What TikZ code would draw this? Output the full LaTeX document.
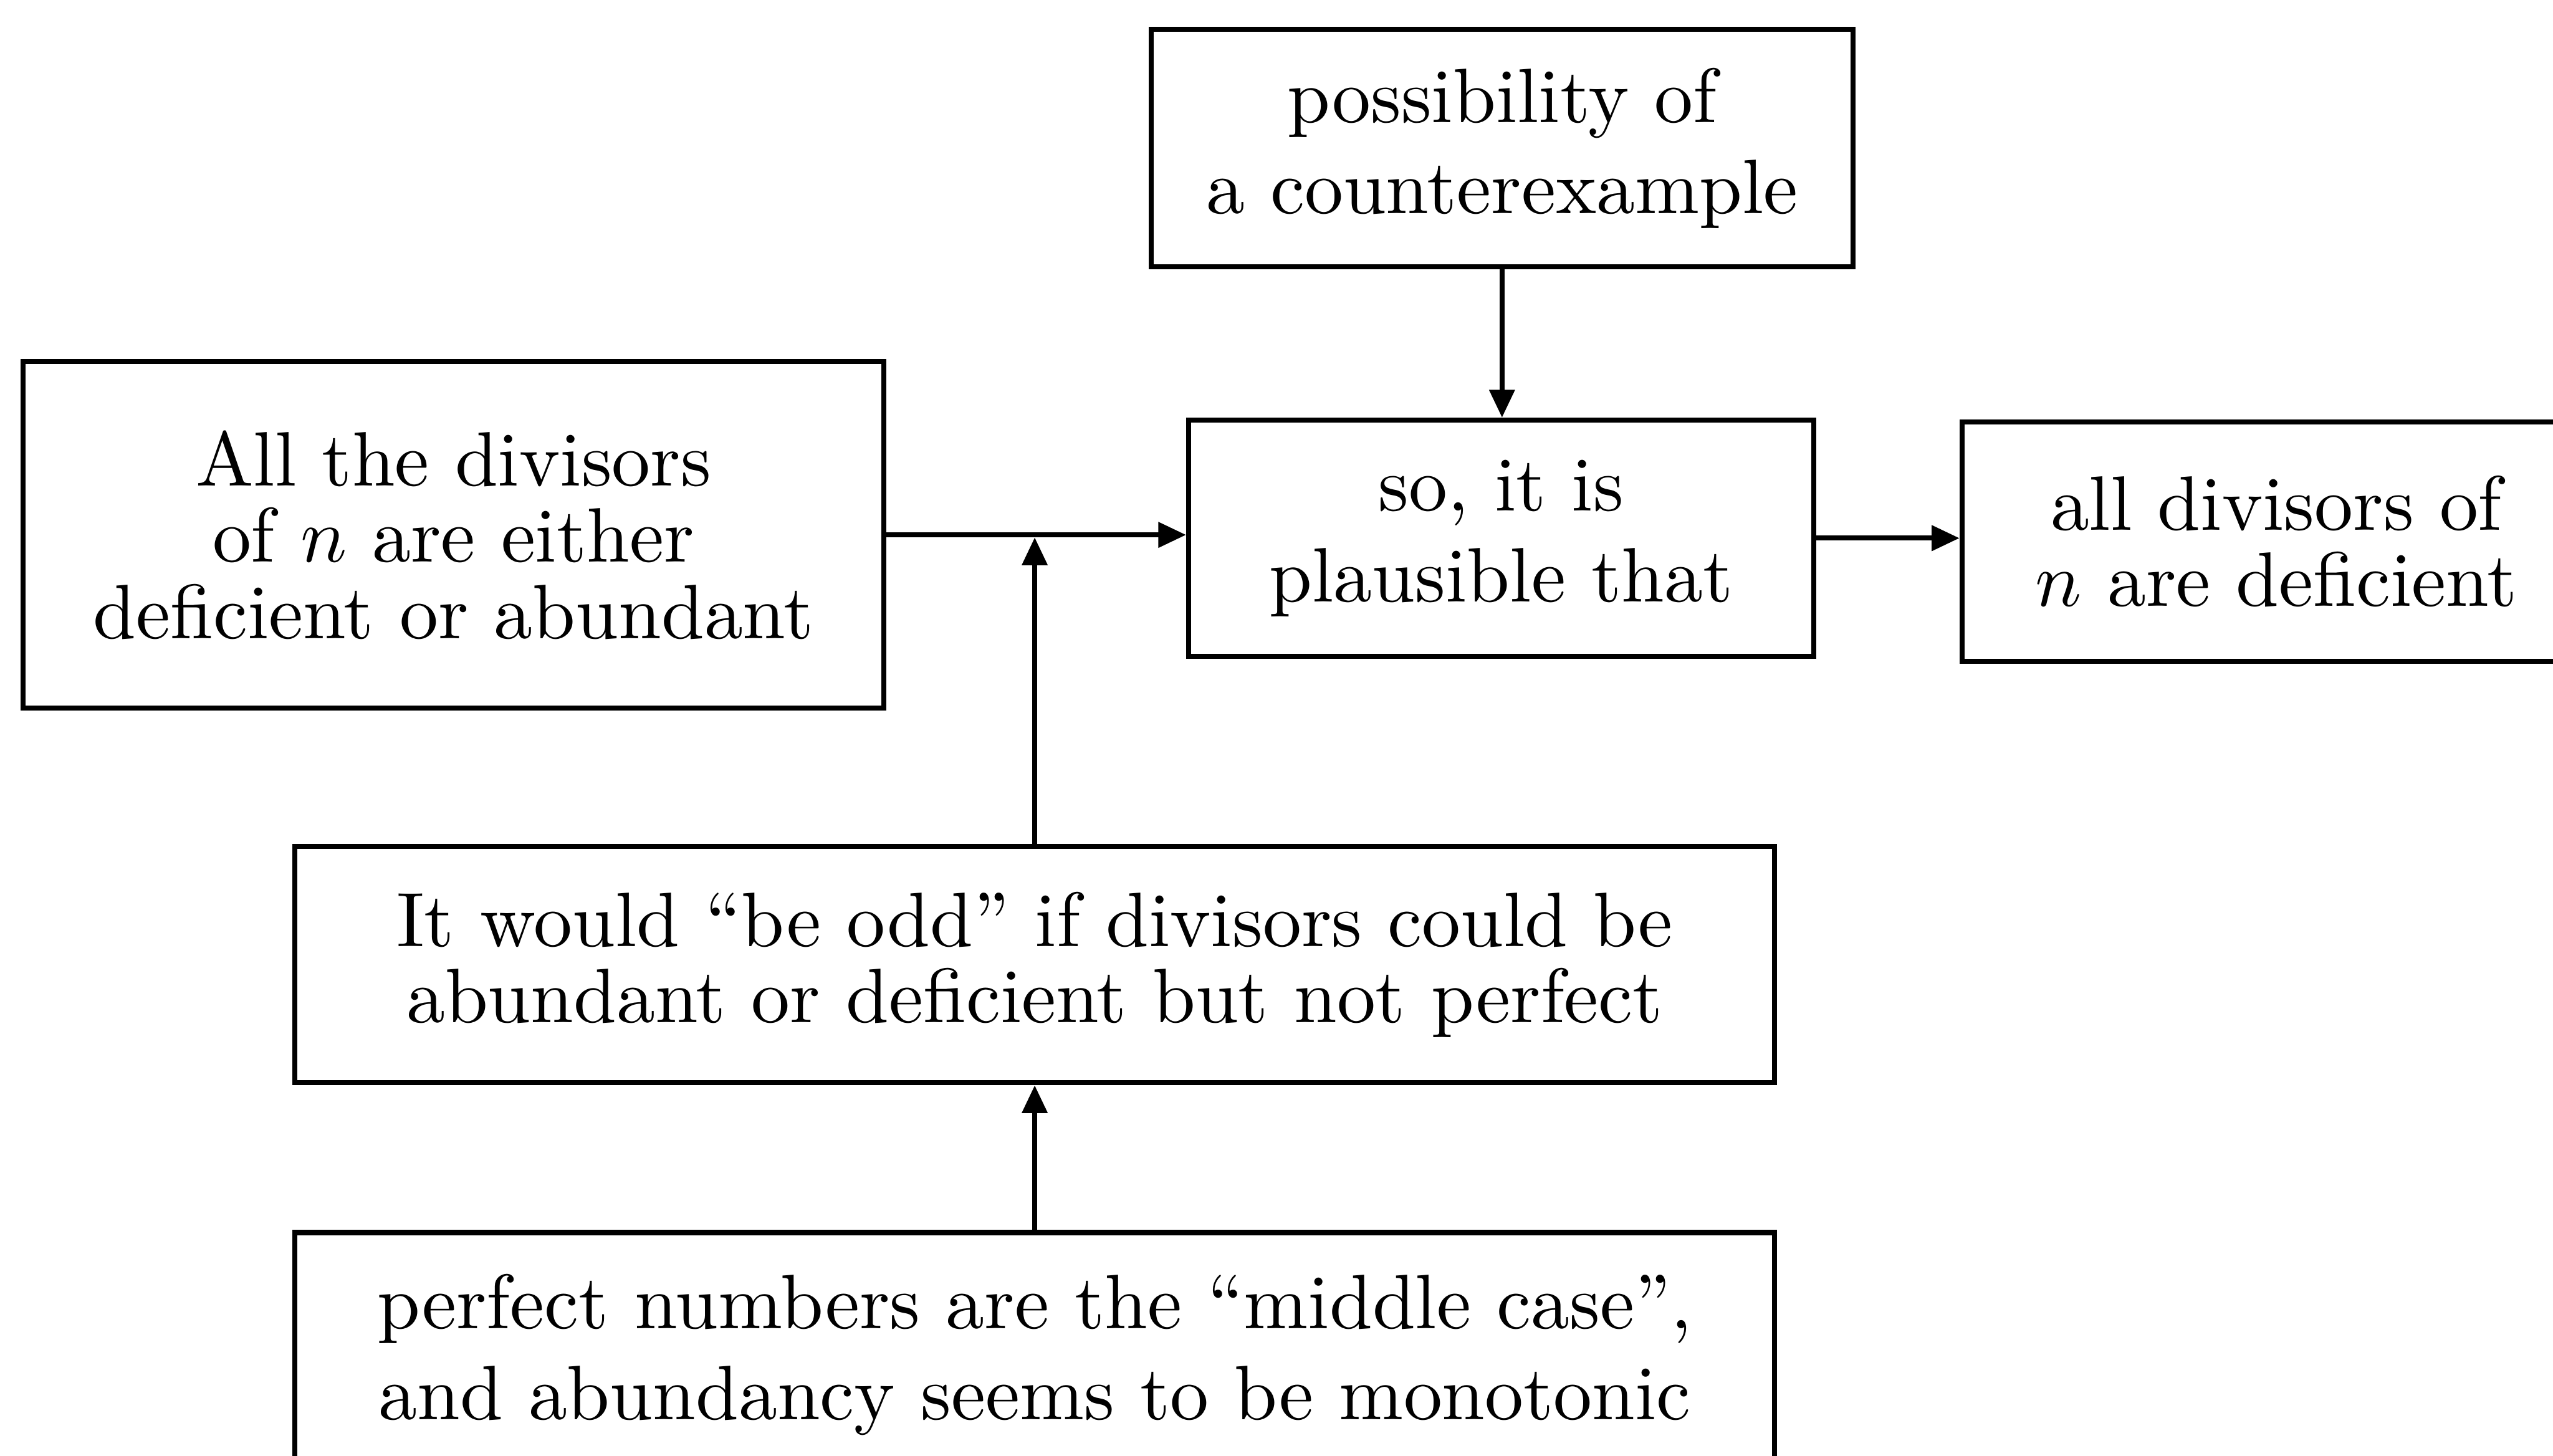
\documentclass[tikz,border=0pt]{standalone}
\usetikzlibrary{arrows.meta}
\begin{document}
\begin{tikzpicture}[x=0.21105pt,y=-0.21105pt,
  box/.style 2 args={draw, line width=0.65pt, rectangle, inner sep=0pt, align=center,
    minimum width=#1*0.21105pt, minimum height=#2*0.21105pt},
  tight/.style={font=\fontsize{10}{9.9}\selectfont},
  loose/.style={font=\fontsize{10}{11.8}\selectfont},
  arr/.style={line width=0.65pt, -{Triangle[length=3.6pt,width=3.2pt]}}]

% page frame; boxes running past it are cut off
\useasboundingbox (0,0) rectangle (1568,894);
\clip (0,0) rectangle (1568,894);

% statements
\node[box={431}{146}, loose] (pos) at (922.5,91) {possibility of\\a counterexample};
\node[box={529}{213}, tight] (all) at (278.5,328.5) {All the divisors\\of $n$ are either\\deficient or abundant};
\node[box={384}{145}, loose] (so) at (922,330.5) {so, it is\\plausible that};
\node[box={386}{147}, tight] (concl) at (1398,332.5) {all divisors of\\$n$ are deficient};
\node[box={909}{145}, tight] (odd) at (635.5,592.5) {It would ``be odd'' if divisors could be\\abundant or deficient but not perfect};
\node[box={909}{150}, loose] (perf) at (635.5,832) {perfect numbers are the ``middle case'',\\and abundancy seems to be monotonic};

% joint where the warrant meets the data line
\coordinate (j) at (odd.north |- all.east);

% connectors
\draw[arr] (pos.south) -- (pos.south |- so.north);
\draw[arr] (all.east) -- (all.east -| so.west);
\draw[arr] (odd.north) -- ([yshift=-0.33pt]j);
\draw[arr] (so.east) -- (so.east -| concl.west);
\draw[arr] (perf.north) -- (odd.south);
\end{tikzpicture}
\end{document}
